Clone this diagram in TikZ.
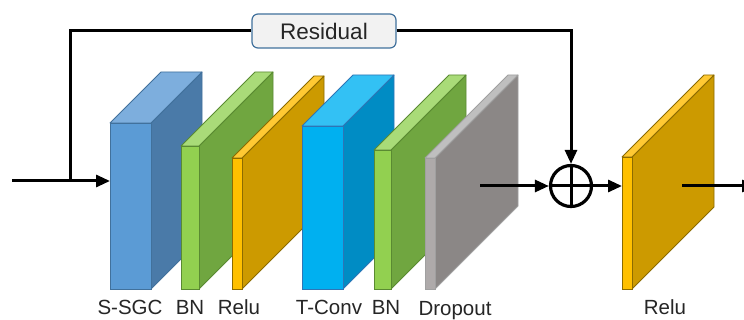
\documentclass[tikz,border=0pt]{standalone}
\usepackage{fontspec}
\setmainfont{Liberation Sans}
\usetikzlibrary{arrows.meta}
\definecolor{sgcF}{HTML}{5B9BD5}\definecolor{sgcS}{HTML}{4A7AA8}\definecolor{sgcT}{HTML}{7DAEDD}\definecolor{sgcB}{HTML}{41719C}
\definecolor{bnF}{HTML}{92D050}\definecolor{bnS}{HTML}{70A640}\definecolor{bnT}{HTML}{A9DB78}\definecolor{bnB}{HTML}{5A8A32}
\definecolor{reF}{HTML}{FFC000}\definecolor{reS}{HTML}{CC9A00}\definecolor{reT}{HTML}{FFC933}\definecolor{reB}{HTML}{8C6B00}
\definecolor{tcF}{HTML}{00B0F0}\definecolor{tcS}{HTML}{008CC4}\definecolor{tcT}{HTML}{33C1F4}\definecolor{tcB}{HTML}{2E75B6}
\definecolor{doF}{HTML}{AEAAAA}\definecolor{doS}{HTML}{8B8786}\definecolor{doT}{HTML}{BFBFBF}\definecolor{doB}{HTML}{A0A0A0}
\definecolor{resFill}{HTML}{F2F2F2}\definecolor{resBorder}{HTML}{41719C}
\definecolor{txt}{HTML}{262626}
\newcommand\cubeblock[7]{%
  \fill[#7S,draw=#7B,line width=0.8pt,line join=round] (#2+#4,#3) -- ++(#6,-#6) -- (#2+#4+#6,#5-#6) -- (#2+#4,#5) -- cycle;
  \fill[#7T,draw=#7B,line width=0.8pt,line join=round] (#2,#3) -- ++(#6,-#6) -- ++(#4,0) -- (#2+#4,#3) -- cycle;
  \node[frontface,fill=#7F,draw=#7B,minimum width=#4pt,minimum height=#5pt-#3pt] (#1) at (#2+#4/2,{(#3+#5)/2}) {};
}
\begin{document}
\begin{tikzpicture}[x=1pt,y=-1pt,
  frontface/.style={rectangle,inner sep=0pt,outer sep=0pt,line width=0.8pt},
  conn/.style={line width=3pt,-{Triangle[length=14pt,width=12pt]}},
  plain/.style={line width=3pt},
  lbl/.style={font=\fontsize{20.5}{20.5}\selectfont,text=txt,anchor=base}]
\useasboundingbox (0,0) rectangle (744,320);
\fill[white] (0,0) rectangle (744,320);
% blocks
\cubeblock{sgc}{110}{123}{41}{289}{51}{sgc}
\cubeblock{bna}{181}{146}{18}{289}{74}{bn}
\cubeblock{rea}{232}{158}{10}{289}{82}{re}
\cubeblock{tconv}{302}{126}{41}{289}{51}{tc}
\cubeblock{bnb}{374}{150}{17}{289}{75}{bn}
\cubeblock{drop}{425}{158}{10}{289}{83}{do}
\cubeblock{reb}{622}{157}{10}{289}{82}{re}
% labels
\node[lbl] at (130,314) {S-SGC};
\node[lbl] at (190,314) {BN};
\node[lbl] at (239,314) {Relu};
\node[lbl] at (329,314) {T-Conv};
\node[lbl] at (386,314) {BN};
\node[lbl] at (455,315) {Dropout};
\node[lbl] at (665,314) {Relu};
% residual box
\node[draw=resBorder,fill=resFill,line width=1.2pt,rounded corners=6pt,minimum width=144pt,minimum height=34pt,inner sep=0pt,font=\fontsize{22.5}{22.5}\selectfont,text=txt] (res) at (324,31) {Residual};
% sum node
\node[circle,draw=black,fill=white,line width=3.2pt,minimum size=41pt,inner sep=0pt] (plus) at (571,186) {};
\draw[line width=3pt] (plus.north) -- (plus.south) (plus.west) -- (plus.east);
% coordinates
\coordinate (in) at (12,181);
\coordinate (split) at (70,181);
\coordinate (dropout) at (480,186);
\coordinate (outend) at (756,186);
\coordinate (outstart) at (682,186);
% connectors
\draw[conn] (in) -- (in -| sgc.west);
\draw[plain,line join=miter] (split) |- (res.west);
\draw[conn,line join=miter] (res.east) -| (plus.north);
\draw[conn] (dropout) -- (plus.west);
\draw[conn] (plus.east) -- (plus -| reb.west);
\draw[conn] (outstart) -- (outend);
\end{tikzpicture}
\end{document}
